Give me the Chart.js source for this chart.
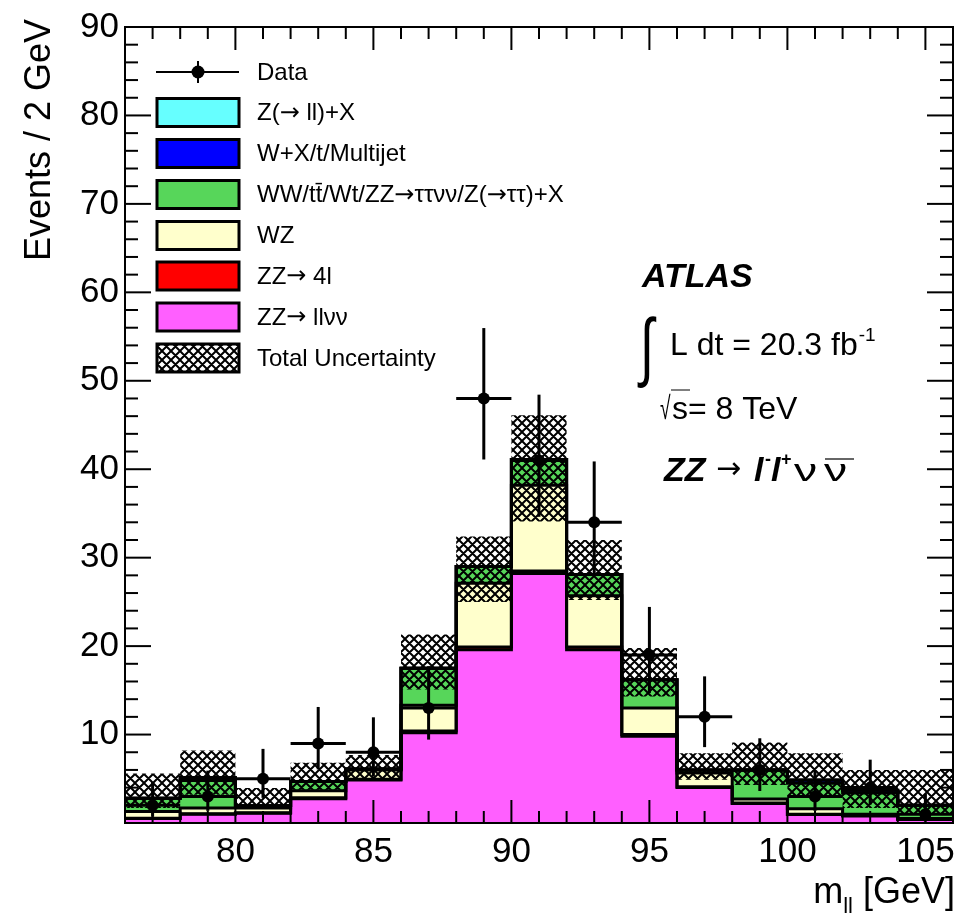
<!DOCTYPE html>
<html>
<head>
<meta charset="utf-8" />
<title>ZZ → llνν : m_ll</title>
<script src="https://cdn.jsdelivr.net/npm/chart.js@4.4.1/dist/chart.umd.min.js"></script>
<style>
  html, body { margin: 0; padding: 0; background: #fff; }
</style>
</head>
<body>
<canvas id="mll" width="959" height="918"></canvas>
<script>
// 2 GeV bins in m_ll
var binLow = [76, 78, 80, 82, 84, 86, 88, 90, 92, 94, 96, 98, 100, 102, 104];
var binCentre = [77, 79, 81, 83, 85, 87, 89, 91, 93, 95, 97, 99, 101, 103, 105];
var binEdgeMax = 106;
var binHalfWidth = 1;

// stacked backgrounds / signal, bottom to top
var zzLLvv   = [0.5, 1.0, 1.1, 2.75, 4.85, 10.2, 19.6, 28.2, 19.6, 9.8, 4.0, 2.2, 0.95, 0.8, 0.4];
var zz4l     = [0.05, 0.05, 0.05, 0.1, 0.1, 0.2, 0.3, 0.3, 0.3, 0.2, 0.1, 0.05, 0.05, 0.05, 0.0];
var wz       = [0.75, 0.65, 0.55, 0.8, 1.05, 2.9, 7.2, 9.7, 5.8, 3.0, 1.55, 0.45, 0.6, 0.15, 0.1];
var wwTop    = [1.5, 3.1, 0.25, 1.05, 0.1, 4.2, 1.9, 2.9, 2.4, 3.2, 0.35, 3.3, 2.9, 2.4, 1.5];
var wMulti   = [0, 0.35, 0, 0, 0, 0, 0, 0, 0, 0, 0, 0, 0.35, 0.3, 0];
var zJets    = [0, 0, 0, 0, 0, 0, 0, 0, 0, 0, 0, 0, 0, 0, 0];

// total uncertainty band (lower / upper edge)
var bandLow  = [1.7, 3.2, 1.6, 3.75, 5.0, 15.1, 25.0, 34.1, 25.2, 14.3, 4.9, 4.3, 2.9, 1.7, 0.9];
var bandHigh = [5.6, 8.2, 3.95, 6.8, 7.7, 21.3, 32.4, 46.1, 32.0, 19.8, 7.9, 9.1, 7.9, 6.0, 6.0];

// data with Poisson errors
var dataCounts = [2, 3, 5, 9, 8, 13, 48, 41, 34, 19, 12, 6, 3, 4, 1];
var dataErrLo  = [1.29, 1.63, 2.16, 2.94, 2.77, 3.57, 6.90, 6.38, 5.81, 4.32, 3.42, 2.38, 1.63, 1.91, 0.83];
var dataErrHi  = [2.64, 2.92, 3.38, 4.12, 3.95, 4.73, 7.96, 7.43, 6.88, 5.43, 4.58, 3.58, 2.92, 3.16, 2.30];

var xTickValues = [80, 85, 90, 95, 100, 105];
var yTickValues = [10, 20, 30, 40, 50, 60, 70, 80, 90];

var FONT = "'Liberation Sans', Arial, Helvetica, sans-serif";
var ARROW_FONT = "'DejaVu Sans', sans-serif";

var colours = {
  zJets: '#66ffff',
  wMulti: '#0000ff',
  wwTop: '#57d65a',
  wz: '#ffffcc',
  zz4l: '#ff0000',
  zzLLvv: '#ff5fff'
};

var canvas = document.getElementById('mll');
var ctx0 = canvas.getContext('2d');

function makeHatch() {
  var s = 9;
  var c = document.createElement('canvas');
  c.width = s; c.height = s;
  var g = c.getContext('2d');
  g.strokeStyle = '#000';
  g.lineWidth = 2;
  g.beginPath();
  for (var k = -1; k <= 1; k++) {
    g.moveTo(k * s, 0); g.lineTo(k * s + s, s);
    g.moveTo(k * s, s); g.lineTo(k * s + s, 0);
  }
  g.stroke();
  return ctx0.createPattern(c, 'repeat');
}
var hatch = makeHatch();

function stepPoints(vals) {
  var pts = binLow.map(function (x, i) { return { x: x, y: vals[i] }; });
  pts.push({ x: binEdgeMax, y: vals[vals.length - 1] });
  return pts;
}

function stackLayer(label, vals, colour, fill) {
  return {
    label: label,
    data: stepPoints(vals),
    stack: 'mc',
    stepped: 'before',
    borderColor: '#000',
    borderWidth: 3,
    backgroundColor: colour,
    pointRadius: 0,
    fill: fill
  };
}

var legendRows = [
  { text: 'Data', kind: 'data' },
  { text: 'Z(\u2192 ll)+X', colour: colours.zJets },
  { text: 'W+X/t/Multijet', colour: colours.wMulti },
  { text: 'WW/tt\u0304/Wt/ZZ\u2192\u03c4\u03c4\u03bd\u03bd/Z(\u2192\u03c4\u03c4)+X', colour: colours.wwTop },
  { text: 'WZ', colour: colours.wz },
  { text: 'ZZ\u2192 4l', colour: colours.zz4l },
  { text: 'ZZ\u2192 ll\u03bd\u03bd', colour: colours.zzLLvv },
  { text: 'Total Uncertainty', kind: 'band' }
];
var legendY = [72, 112.5, 153.5, 194.5, 235.5, 276, 317, 358];

function line(ctx, x1, y1, x2, y2) {
  ctx.beginPath(); ctx.moveTo(x1, y1); ctx.lineTo(x2, y2); ctx.stroke();
}

// text with arrows taken from a font that has a long arrow glyph
function mixedText(ctx, text, x, y, size) {
  var parts = text.split('\u2192');
  parts.forEach(function (part, i) {
    ctx.font = size + 'px ' + FONT;
    ctx.fillText(part, x, y);
    x += ctx.measureText(part).width;
    if (i < parts.length - 1) {
      ctx.font = size + 'px ' + ARROW_FONT;
      ctx.fillText('\u2192', x, y);
      x += ctx.measureText('\u2192').width;
    }
  });
  return x;
}

// glyph squeezed or stretched horizontally
function scaledGlyph(ctx, ch, x, y, font, sx, sy) {
  ctx.save();
  ctx.translate(x, y);
  ctx.scale(sx, sy);
  ctx.font = font;
  ctx.fillText(ch, 0, 0);
  ctx.restore();
}

var rootStyle = {
  id: 'rootStyle',
  afterDatasetsDraw: function (chart) {
    var ctx = chart.ctx, xs = chart.scales.x, ys = chart.scales.y;
    ctx.save();
    ctx.strokeStyle = '#000';
    ctx.lineWidth = 3;
    dataCounts.forEach(function (n, i) {
      var cx = xs.getPixelForValue(binCentre[i]);
      var cy = ys.getPixelForValue(n);
      line(ctx, xs.getPixelForValue(binCentre[i] - binHalfWidth), cy,
                xs.getPixelForValue(binCentre[i] + binHalfWidth), cy);
      line(ctx, cx, ys.getPixelForValue(n - dataErrLo[i]), cx, ys.getPixelForValue(n + dataErrHi[i]));
    });
    ctx.restore();
  },
  afterDraw: function (chart) {
    var ctx = chart.ctx, a = chart.chartArea, xs = chart.scales.x, ys = chart.scales.y;
    ctx.save();
    ctx.strokeStyle = '#000';
    ctx.fillStyle = '#000';

    // frame and inward ticks
    ctx.lineWidth = 2;
    ctx.strokeRect(a.left, a.top, a.right - a.left, a.bottom - a.top);
    var v, p, len;
    for (v = 77; v < 106; v++) {
      p = xs.getPixelForValue(v);
      len = (v % 5 === 0) ? 23 : 12;
      line(ctx, p, a.bottom, p, a.bottom - len);
      line(ctx, p, a.top, p, a.top + len);
    }
    for (v = 2; v < 90; v += 2) {
      p = ys.getPixelForValue(v);
      len = (v % 10 === 0) ? 26 : 13;
      line(ctx, a.left, p, a.left + len, p);
      line(ctx, a.right, p, a.right - len, p);
    }

    // axis titles
    ctx.save();
    ctx.translate(40, 19);
    ctx.rotate(-Math.PI / 2);
    ctx.font = '36px ' + FONT;
    ctx.textAlign = 'right';
    ctx.textBaseline = 'middle';
    ctx.fillText('Events / 2 GeV', 0, 0);
    ctx.restore();

    ctx.textBaseline = 'alphabetic';
    ctx.textAlign = 'left';
    ctx.font = '36px ' + FONT;
    var tail = ' [GeV]';
    var wTail = ctx.measureText(tail).width;
    var wM = ctx.measureText('m').width;
    ctx.font = '22px ' + FONT;
    var wSub = ctx.measureText('ll').width;
    var xr = 955 - wTail - wSub - wM;
    ctx.font = '36px ' + FONT;
    ctx.fillText('m', xr, 903);
    ctx.font = '22px ' + FONT;
    ctx.fillText('ll', xr + wM, 913);
    ctx.font = '36px ' + FONT;
    ctx.fillText(tail, xr + wM + wSub, 903);

    // legend
    ctx.textBaseline = 'middle';
    legendRows.forEach(function (row, i) {
      var y = legendY[i];
      if (row.kind === 'data') {
        ctx.lineWidth = 2;
        line(ctx, 156, y, 239, y);
        line(ctx, 198, y - 11, 198, y + 11);
        ctx.beginPath(); ctx.arc(198, y, 6.5, 0, Math.PI * 2); ctx.fill();
      } else {
        ctx.fillStyle = row.kind === 'band' ? hatch : row.colour;
        ctx.fillRect(157, y - 14, 82, 28);
        ctx.lineWidth = 3;
        ctx.strokeRect(157, y - 14, 82, 28);
        ctx.fillStyle = '#000';
      }
      mixedText(ctx, row.text, 257, y + 1, 24);
    });

    // experiment labels
    ctx.textBaseline = 'alphabetic';
    ctx.font = 'italic bold 34px ' + FONT;
    ctx.fillText('ATLAS', 642, 287);

    scaledGlyph(ctx, '\u222b', 640, 372, '72px ' + FONT, 0.7, 1.05);
    ctx.font = '32px ' + FONT;
    var lumi = 'L dt = 20.3 fb';
    ctx.fillText(lumi, 670, 355);
    var lumiEnd = 670 + ctx.measureText(lumi).width;
    ctx.font = '19px ' + FONT;
    ctx.fillText('-1', lumiEnd + 1, 341);

    scaledGlyph(ctx, '\u221a', 660, 419, '32px ' + FONT, 0.6, 1);
    ctx.font = '32px ' + FONT;
    ctx.fillText('s= 8 TeV', 672, 419);
    ctx.lineWidth = 1;
    line(ctx, 671, 390, 690, 390);

    ctx.font = 'italic bold 34px ' + FONT;
    ctx.fillText('ZZ', 664, 481);
    ctx.font = '30px ' + ARROW_FONT;
    ctx.fillText('\u2192', 716, 478);
    ctx.font = 'italic bold 34px ' + FONT;
    ctx.fillText('l', 754, 481);
    ctx.fillText('l', 771, 481);
    ctx.font = 'bold 18px ' + FONT;
    ctx.fillText('-', 765, 465);
    ctx.fillText('+', 781, 465);
    scaledGlyph(ctx, '\u03bd', 794, 481, '32px ' + FONT, 1.45, 1);
    scaledGlyph(ctx, '\u03bd', 824, 481, '32px ' + FONT, 1.45, 1);
    ctx.lineWidth = 1.2;
    line(ctx, 825, 459, 854, 459);

    ctx.restore();
  }
};

var chart = new Chart(canvas, {
  type: 'line',
  data: {
    datasets: [
      {
        label: 'Data',
        data: binCentre.map(function (x, i) { return { x: x, y: dataCounts[i] }; }),
        stack: 'data',
        showLine: false,
        pointRadius: 6,
        pointBorderWidth: 0,
        pointBackgroundColor: '#000',
        fill: false
      },
      {
        label: 'band low',
        data: stepPoints(bandLow),
        stack: 'bandLow',
        stepped: 'before',
        borderColor: 'rgba(0,0,0,0)',
        borderWidth: 0,
        pointRadius: 0,
        fill: false
      },
      {
        label: 'Total Uncertainty',
        data: stepPoints(bandHigh),
        stack: 'bandHigh',
        stepped: 'before',
        borderColor: 'rgba(0,0,0,0)',
        borderWidth: 0,
        pointRadius: 0,
        backgroundColor: hatch,
        fill: 1
      },
      stackLayer('ZZ\u2192 ll\u03bd\u03bd', zzLLvv, colours.zzLLvv, 'origin'),
      stackLayer('ZZ\u2192 4l', zz4l, colours.zz4l, '-1'),
      stackLayer('WZ', wz, colours.wz, '-1'),
      stackLayer('WW/tt/Wt/ZZ\u2192\u03c4\u03c4\u03bd\u03bd/Z(\u2192\u03c4\u03c4)+X', wwTop, colours.wwTop, '-1'),
      stackLayer('W+X/t/Multijet', wMulti, colours.wMulti, '-1'),
      stackLayer('Z(\u2192 ll)+X', zJets, colours.zJets, '-1')
    ]
  },
  options: {
    responsive: false,
    devicePixelRatio: 1,
    animation: false,
    layout: { padding: { left: 0, top: 27, right: 3, bottom: 0 } },
    plugins: {
      legend: { display: false },
      tooltip: { enabled: false },
      filler: { drawTime: 'beforeDatasetsDraw' }
    },
    scales: {
      x: {
        type: 'linear',
        min: 76,
        max: 106,
        grid: { display: false, drawTicks: false },
        border: { display: false },
        ticks: { color: '#000', font: { family: FONT, size: 35 }, padding: 8, maxRotation: 0 },
        afterBuildTicks: function (s) { s.ticks = xTickValues.map(function (v) { return { value: v }; }); },
        afterFit: function (s) { s.height = 95; s.paddingLeft = 0; s.paddingRight = 0; }
      },
      y: {
        type: 'linear',
        stacked: true,
        min: 0,
        max: 90,
        grid: { display: false, drawTicks: false },
        border: { display: false },
        ticks: { color: '#000', font: { family: FONT, size: 35 }, padding: 6 },
        afterBuildTicks: function (s) { s.ticks = yTickValues.map(function (v) { return { value: v }; }); },
        afterFit: function (s) { s.width = 125; s.paddingTop = 0; s.paddingBottom = 0; }
      }
    }
  },
  plugins: [rootStyle]
});
</script>
</body>
</html>
